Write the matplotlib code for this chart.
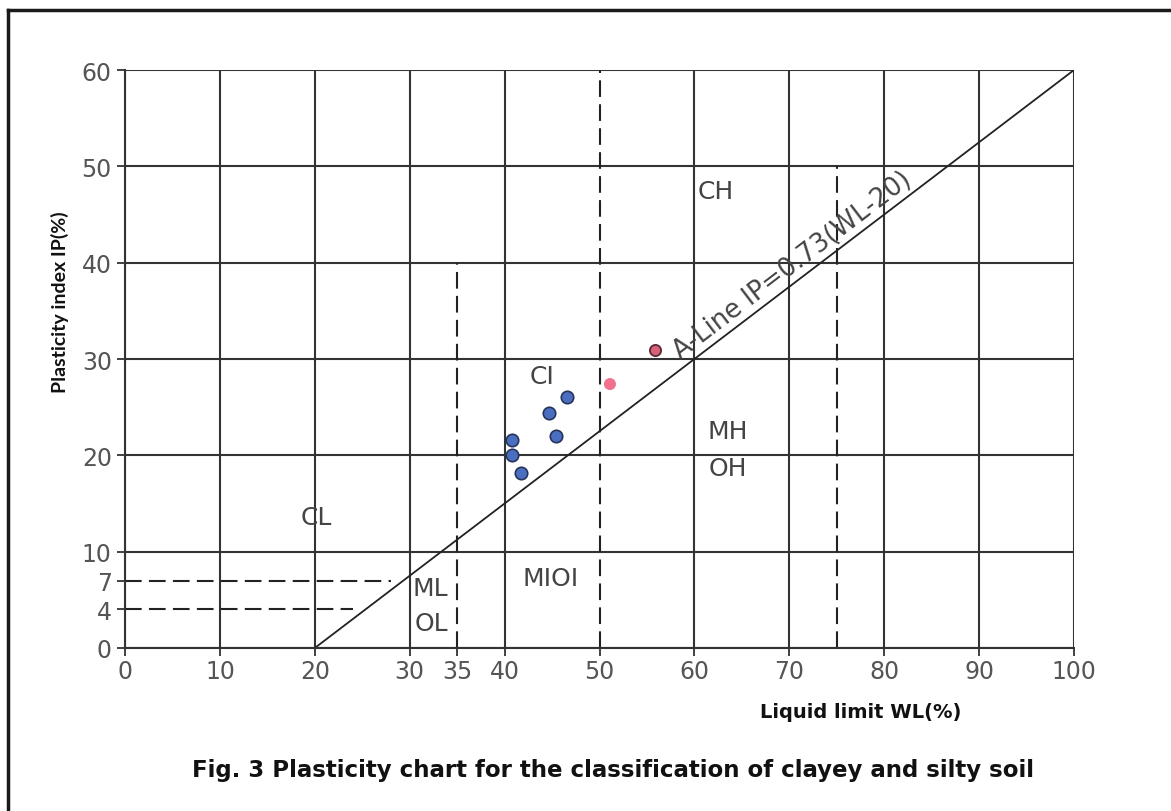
"""
Plasticity chart (Casagrande) with soil sample points.
"""
import matplotlib
matplotlib.use('agg')
from matplotlib import pyplot as plt
from matplotlib.lines import Line2D

plt.rcParams["font.family"] = "DejaVu Sans"

GRID = "#333333"
TICK_GREY = "#555555"

# samples: liquid limit WL (%), plasticity index IP (%)
blue_wl = [46.6, 44.7, 45.4, 40.8, 40.8, 41.7]
blue_ip = [26.1, 24.4, 22.0, 21.6, 20.0, 18.2]
pink_wl = [51.1]
pink_ip = [27.4]
red_wl = [55.9]
red_ip = [30.9]

# A-line end points
aline_wl = [20, 100]
aline_ip = [0, 60]

x_ticks = [0, 10, 20, 30, 35, 40, 50, 60, 70, 80, 90, 100]
y_ticks = [0, 4, 7, 10, 20, 30, 40, 50, 60]

zones = [("CL", 20.2, 13.6), ("ML", 32.2, 6.2), ("OL", 32.3, 2.6),
         ("MIOI", 44.8, 7.3), ("CI", 44.0, 28.2), ("CH", 62.3, 47.4),
         ("MH", 63.5, 22.5), ("OH", 63.5, 18.7)]

fig = plt.figure(figsize=(11.71, 8.12), dpi=100)
ax = fig.add_axes([125 / 1171, 163 / 812, 949 / 1171, 578 / 812])

# solid grid every 10 (x = 50 is drawn dashed instead)
for g in range(0, 101, 10):
    if g != 50:
        ax.plot([g, g], [0, 60], color=GRID, lw=1.5, zorder=1)
for g in range(0, 61, 10):
    ax.plot([0, 100], [g, g], color=GRID, lw=1.5, zorder=1)

# dashed boundaries
dash = dict(color="#222222", lw=1.5, ls=(0, (8, 3.5)), zorder=2)
ax.plot([35, 35], [0, 40], **dash)
ax.plot([50, 50], [0, 60], **dash)
ax.plot([75, 75], [0, 50], **dash)
ax.plot([0, 28.0], [7, 7], **dash)
ax.plot([0, 24.0], [4, 4], **dash)

# A-line
ax.plot(aline_wl, aline_ip, color="#222222", lw=1.3, zorder=2)
ax.text(70.3, 39.8, "A-Line IP=0.73(WL-20)", rotation=37.3, rotation_mode="anchor",
        ha="center", va="center", fontsize=18.5, color="#444444", zorder=3,
        family="DejaVu Sans")

for label, x, y in zones:
    ax.text(x, y, label, ha="center", va="center", fontsize=18, color="#444444", zorder=3,
            family="DejaVu Sans")

ax.scatter(blue_wl, blue_ip, s=80, color="#4a6fc0", edgecolors="#27345a", linewidths=1.2, zorder=4)
ax.scatter(pink_wl, pink_ip, s=75, color="#f2728e", edgecolors="none", zorder=4)
ax.scatter(red_wl, red_ip, s=65, color="#d8607a", edgecolors="#5a2a35", linewidths=1.3, zorder=4)

ax.set_xlim(0, 100)
ax.set_ylim(0, 60)
for side in ["top", "right"]:
    ax.spines[side].set_visible(False)
for side in ["left", "bottom"]:
    ax.spines[side].set_color(GRID)
    ax.spines[side].set_linewidth(1.5)

ax.set_xticks(x_ticks)
ax.set_yticks(y_ticks)
ax.tick_params(axis="both", colors=GRID, labelcolor=TICK_GREY, labelsize=17,
               length=6, width=1.3, direction="out")
ax.tick_params(axis="x", pad=2)

fig.text(861 / 1171, 1 - 713 / 812, "Liquid limit WL(%)", ha="center", va="center",
         fontsize=14, fontweight="bold", color="#111111")
fig.text(60 / 1171, 1 - 302 / 812, "Plasticity index IP(%)", ha="center", va="center",
         rotation=90, fontsize=14, fontweight="bold", color="#111111", family=["Lato", "DejaVu Sans"])
fig.text(613 / 1171, 1 - 771 / 812,
         "Fig. 3 Plasticity chart for the classification of clayey and silty soil",
         ha="center", va="center", fontsize=16.5, fontweight="bold", color="#111111")

# partial frame around the figure (top and left edges visible)
fig.add_artist(Line2D([8 / 1171, 1], [1 - 11 / 812, 1 - 11 / 812], transform=fig.transFigure,
                      color="#1a1a1a", lw=2.5))
fig.add_artist(Line2D([8 / 1171, 8 / 1171], [0, 1 - 11 / 812], transform=fig.transFigure,
                      color="#1a1a1a", lw=2.5))

fig.savefig("out.png", dpi=100)
